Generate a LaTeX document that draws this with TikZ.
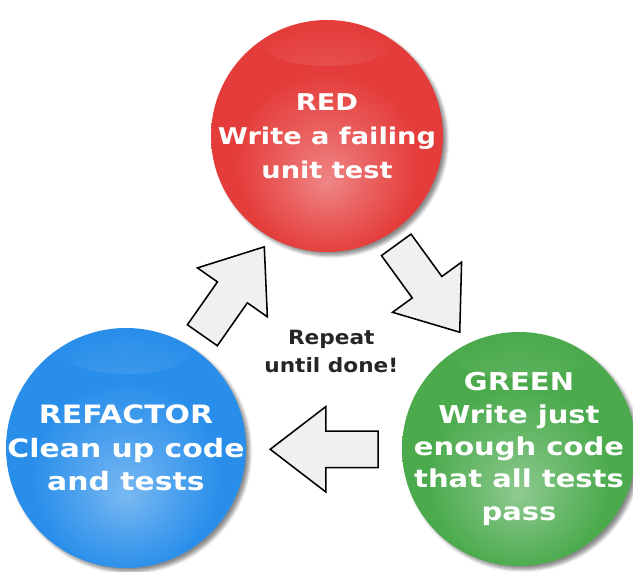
\documentclass[tikz,border=0pt]{standalone}
\usepackage{fontspec}
\setmainfont{DejaVu Sans}
\newfontfamily\phasefont{DejaVu Sans}[FakeStretch=1.18]
\newfontfamily\notefont{DejaVu Sans}[FakeStretch=1.1]
\usepackage{tikz}
\usetikzlibrary{shapes.geometric, shapes.arrows, shadows.blur, calc}
\definecolor{tddred}{RGB}{228,60,58}
\definecolor{tddgreen}{RGB}{74,170,76}
\definecolor{tddblue}{RGB}{40,142,234}
\colorlet{spherecol}{tddred}
\pgfdeclareradialshading[spherecol]{sphere}{\pgfpoint{0bp}{-10bp}}{color(0bp)=(spherecol!62!white); color(10bp)=(spherecol!82!white); color(20bp)=(spherecol); color(50bp)=(spherecol)}
\tikzset{sphere color/.style={/utils/exec={\colorlet{spherecol}{#1}}, shade, shading=sphere}}
\tikzstyle{phase} = [circle, minimum size=5.8cm, inner sep=0pt, blur shadow={shadow xshift=0.09cm, shadow yshift=-0.09cm, shadow opacity=45, shadow blur steps=6}, path picture={\shade[inner color=white, outer color=spherecol, opacity=0.25] ($(path picture bounding box.north)+(0,-0.6)$) ellipse (1.6cm and 0.55cm);}]
\tikzstyle{redphase} = [phase, sphere color=tddred, minimum size=5.8cm]
\tikzstyle{greenphase} = [phase, sphere color=tddgreen, minimum size=5.85cm]
\tikzstyle{bluephase} = [phase, sphere color=tddblue, minimum size=6cm]
\tikzstyle{phasetext} = [align=center, text=white]
\tikzstyle{cyclearrow} = [single arrow, draw=black, fill=gray!12, line width=1.1pt, inner xsep=0pt, inner ysep=0.4375cm, minimum height=2.7cm, minimum width=2.1cm, single arrow head extend=0.61cm, single arrow tip angle=75]
\tikzstyle{note} = [align=center, text=black!85, font=\notefont\bfseries\fontsize{14}{20}\selectfont]

\begin{document}
\begin{tikzpicture}
\useasboundingbox (0,0) rectangle (15.825,-14.3);
\node (red) [redphase] at (8.175,-3.4) {};
\node (refactor) [bluephase] at (3.15,-11.2) {};
\node (green) [greenphase] at (12.975,-11.225) {};
\node (redtext) [phasetext, font=\phasefont\bfseries\fontsize{16.4}{24.2}\selectfont] at (red) {RED\\Write a failing\\unit test};
\node (refactortext) [phasetext, font=\phasefont\bfseries\fontsize{18}{23.8}\selectfont] at (refactor) {REFACTOR\\Clean up code\\and tests};
\node (greentext) [phasetext, font=\phasefont\bfseries\fontsize{17.5}{23}\selectfont] at (green) {GREEN\\Write just\\enough code\\that all tests\\pass};

% arrow anchors sit 0.3cm behind the middle of the shape
\node (down) [cyclearrow, rotate=-54] at ($(red)!0.5!(green) + (-0.05,0.34)$) {};
\node (back) [cyclearrow, rotate=180] at ($(green)!0.5!(refactor) + (0.34,-0.02)$) {};
\node (up) [cyclearrow, rotate=55] at ($(refactor)!0.5!(red) + (0,-0.22)$) {};

\node (repeat) [note] at ($(back) + (-0.12,2.44)$) {Repeat\\until done!};
\end{tikzpicture}
\end{document}
